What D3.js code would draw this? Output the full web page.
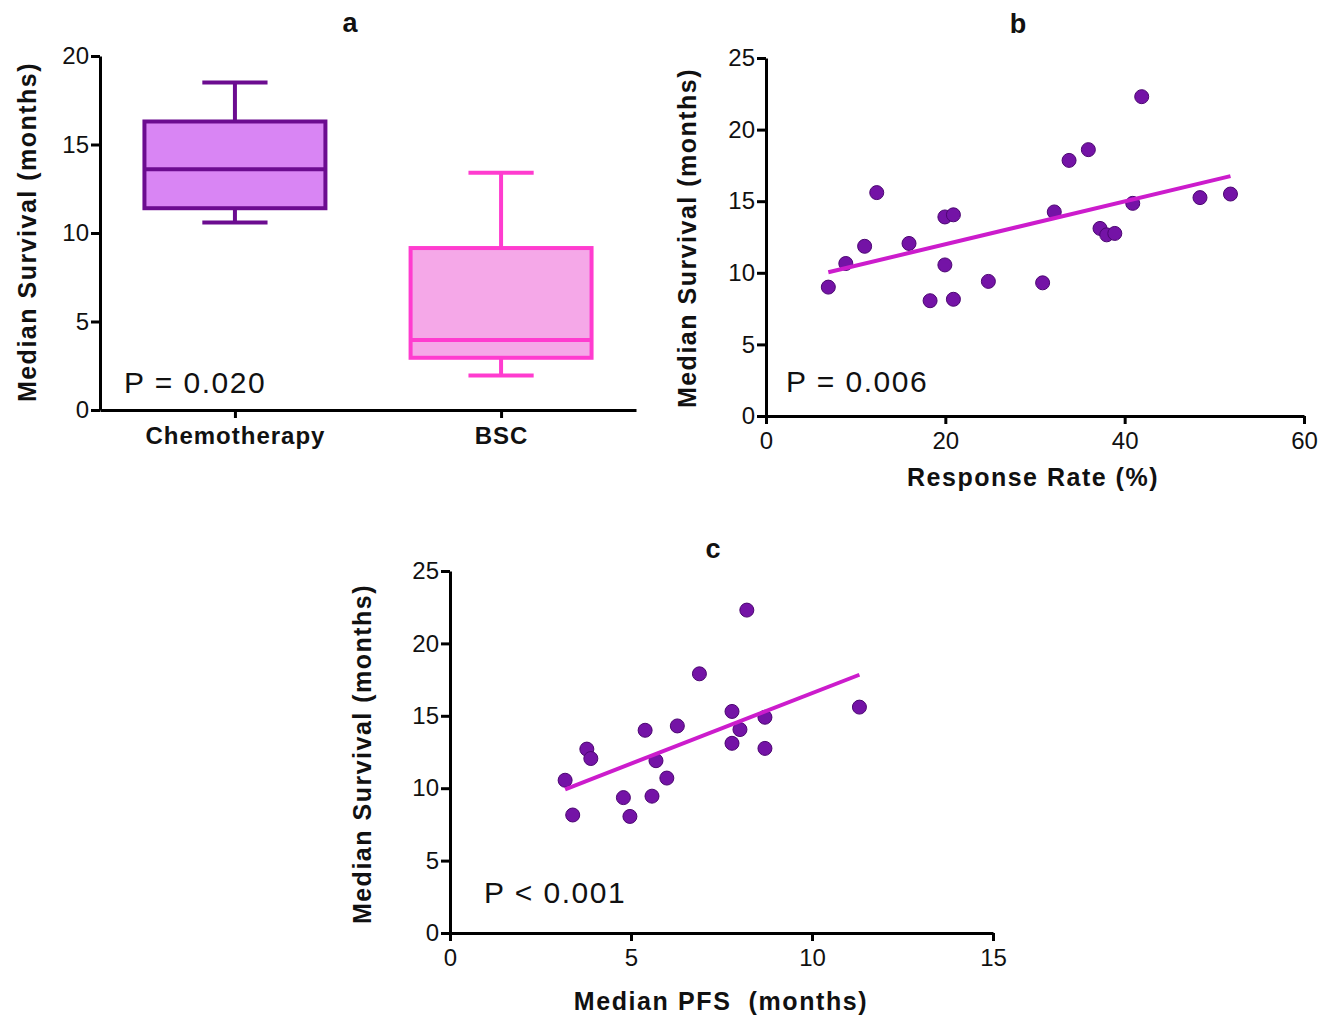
<!DOCTYPE html>
<html>
<head>
<meta charset="utf-8">
<script src="https://cdn.jsdelivr.net/npm/d3@7"></script>
<style>
  body { margin: 0; background: #fff; }
  svg { display: block; font-family: "Liberation Sans", Arial, sans-serif; }
  .axis path, .axis line { stroke: #000; stroke-width: 3; }
  .axis text { font-size: 24px; fill: #111; }
</style>
</head>
<body>
<svg id="fig" width="1333" height="1017"></svg>
<script>
// ---- panel a : box plots
var groups = ["Chemotherapy", "BSC"];
var boxMin = [10.6, 1.95];
var boxQ1 = [11.4, 2.95];
var boxMedian = [13.6, 3.95];
var boxQ3 = [16.3, 9.15];
var boxMax = [18.5, 13.4];
var boxStroke = ["#6c0c90", "#ff3ccf"];
var boxFill = ["#d985f4", "#f5a8e8"];
var yTicksA = [0, 5, 10, 15, 20];

// ---- panel b : response rate vs survival
var respRate = [6.95, 8.9, 11.0, 12.35, 15.95, 18.3, 20.9, 19.95, 19.95, 20.9, 24.8,
                30.85, 32.15, 33.8, 35.95, 37.25, 38.0, 38.9, 40.9, 41.9, 48.4, 51.8];
var survB = [9.0, 10.65, 11.85, 15.6, 12.05, 8.05, 8.15, 10.55, 13.9, 14.05, 9.4,
             9.3, 14.25, 17.85, 18.6, 13.1, 12.65, 12.75, 14.85, 22.3, 15.25, 15.5];
var fitB = [9.0, 0.1496];       // intercept, slope
var xTicksB = [0, 20, 40, 60];
var yTicksB = [0, 5, 10, 15, 20, 25];

// ---- panel c : PFS vs survival
var pfs = [3.18, 3.39, 3.78, 3.89, 4.79, 4.97, 5.39, 5.58, 5.69, 5.99, 6.28,
           6.89, 7.79, 7.79, 8.01, 8.2, 8.7, 8.7, 11.31];
var survC = [10.55, 8.15, 12.7, 12.05, 9.35, 8.05, 14.0, 9.45, 11.9, 10.7, 14.3,
             17.9, 15.3, 13.1, 14.05, 22.3, 14.9, 12.75, 15.6];
var fitC = [6.83, 0.973];
var xTicksC = [0, 5, 10, 15];
var yTicksC = [0, 5, 10, 15, 20, 25];

var dotFill = "#7413a6", dotStroke = "#4c0672", fitColor = "#cc1ccc";

var svg = d3.select("#fig");
svg.append("rect").attr("width", 1333).attr("height", 1017).attr("fill", "#fff");

var yLabel = "Median Survival (months)";

function drawAxes(g, x, y, xTicks, yTicks) {
  g.append("g").attr("class", "axis")
    .attr("transform", "translate(0," + y.range()[0] + ")")
    .call(d3.axisBottom(x).tickValues(xTicks).tickSize(8).tickSizeOuter(0).tickPadding(8));
  g.append("g").attr("class", "axis")
    .attr("transform", "translate(" + x.range()[0] + ",0)")
    .call(d3.axisLeft(y).tickValues(yTicks).tickSize(9).tickSizeOuter(0).tickPadding(2));
}

function addText(g, txt, x, y, size, bold, rot, spacing) {
  var t = g.append("text").attr("x", x).attr("y", y)
    .attr("text-anchor", "middle")
    .style("font-size", size + "px")
    .style("font-weight", bold ? "bold" : "normal")
    .style("letter-spacing", (spacing || 0) + "px")
    .style("white-space", "pre")
    .attr("fill", "#111")
    .text(txt);
  if (rot) t.attr("transform", "rotate(-90," + x + "," + y + ")");
  return t;
}

// ===== panel a
var gA = svg.append("g");
var xA = d3.scalePoint().domain(groups).range([100, 636]).padding(0.507);
var yA = d3.scaleLinear().domain([0, 20]).range([410, 56]);
var step = xA.step(), bw = step * 0.68, cw = step * 0.245;

groups.forEach(function (c, i) {
  var cx = xA(c);
  var bx = gA.append("g").attr("stroke", boxStroke[i]).attr("stroke-width", 4);
  bx.append("line").attr("x1", cx).attr("x2", cx).attr("y1", yA(boxMax[i])).attr("y2", yA(boxQ3[i]));
  bx.append("line").attr("x1", cx).attr("x2", cx).attr("y1", yA(boxQ1[i])).attr("y2", yA(boxMin[i]));
  bx.append("line").attr("x1", cx - cw / 2).attr("x2", cx + cw / 2).attr("y1", yA(boxMax[i])).attr("y2", yA(boxMax[i]));
  bx.append("line").attr("x1", cx - cw / 2).attr("x2", cx + cw / 2).attr("y1", yA(boxMin[i])).attr("y2", yA(boxMin[i]));
  bx.append("rect").attr("x", cx - bw / 2).attr("width", bw)
    .attr("y", yA(boxQ3[i])).attr("height", yA(boxQ1[i]) - yA(boxQ3[i]))
    .attr("fill", boxFill[i]);
  bx.append("line").attr("x1", cx - bw / 2).attr("x2", cx + bw / 2)
    .attr("y1", yA(boxMedian[i])).attr("y2", yA(boxMedian[i]));
});

gA.append("g").attr("class", "axis")
  .attr("transform", "translate(0,410)")
  .call(d3.axisBottom(xA).tickSize(8).tickSizeOuter(0).tickPadding(9))
  .selectAll("text").style("font-size", "24px").style("font-weight", "bold").style("letter-spacing", "1px");
gA.append("g").attr("class", "axis")
  .attr("transform", "translate(100,0)")
  .call(d3.axisLeft(yA).tickValues(yTicksA).tickSize(9).tickSizeOuter(0).tickPadding(2));

addText(gA, "a", 350, 32, 27, true);
addText(gA, yLabel, 36, 232, 25, true, true, 1.5);
addText(gA, "P = 0.020", 195, 393, 30, false, false, 1.5);

// ===== scatter panels
function scatter(xs, ys, fit, xDom, yDom, xRange, yRange, xTicks, yTicks) {
  var g = svg.append("g");
  var x = d3.scaleLinear().domain(xDom).range(xRange);
  var y = d3.scaleLinear().domain(yDom).range(yRange);
  drawAxes(g, x, y, xTicks, yTicks);
  g.selectAll("circle").data(xs).enter().append("circle")
    .attr("cx", function (d) { return x(d); })
    .attr("cy", function (d, i) { return y(ys[i]); })
    .attr("r", 7)
    .attr("fill", dotFill).attr("stroke", dotStroke).attr("stroke-width", 1);
  var x0 = d3.min(xs), x1 = d3.max(xs);
  g.append("line")
    .attr("x1", x(x0)).attr("y1", y(fit[0] + fit[1] * x0))
    .attr("x2", x(x1)).attr("y2", y(fit[0] + fit[1] * x1))
    .attr("stroke", fitColor).attr("stroke-width", 4);
  return g;
}

var gB = scatter(respRate, survB, fitB, [0, 60], [0, 25], [766, 1304], [416, 58], xTicksB, yTicksB);
addText(gB, "b", 1018, 33, 27, true);
addText(gB, yLabel, 696, 238, 25, true, true, 1.5);
addText(gB, "Response Rate (%)", 1033, 486, 25, true, false, 1.5);
addText(gB, "P = 0.006", 857, 392, 30, false, false, 1.5);

var gC = scatter(pfs, survC, fitC, [0, 15], [0, 25], [450, 993], [933, 571], xTicksC, yTicksC);
addText(gC, "c", 713, 558, 27, true);
addText(gC, yLabel, 371, 754, 25, true, true, 1.5);
addText(gC, "Median PFS  (months)", 721, 1010, 25, true, false, 1.6);
addText(gC, "P < 0.001", 555, 903, 30, false, false, 1.5);
</script>
</body>
</html>
